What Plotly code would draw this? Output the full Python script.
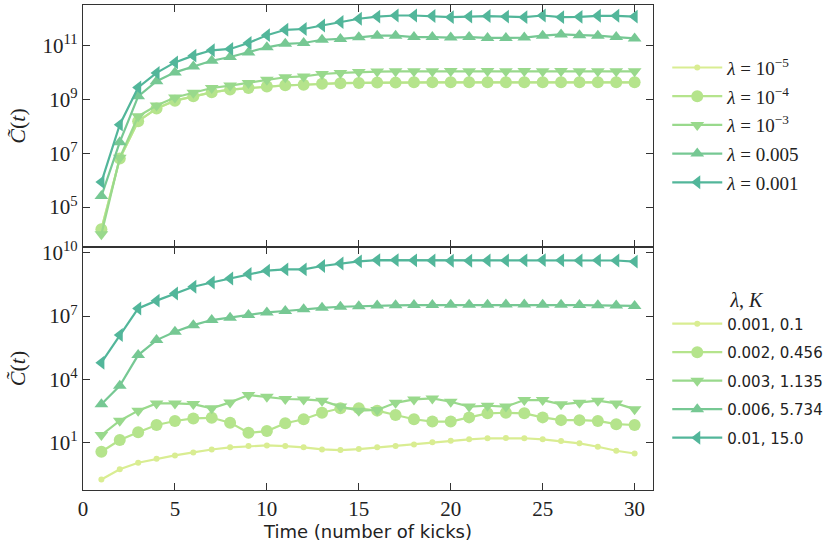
import plotly.graph_objects as go

t = list(range(1, 31))

# Top panel: log10 of C~(t)
top_labels = ["<i>λ</i> = 10<sup>−5</sup>", "<i>λ</i> = 10<sup>−4</sup>", "<i>λ</i> = 10<sup>−3</sup>",
              "<i>λ</i> = 0.005", "<i>λ</i> = 0.001"]
top_lam5 = [4.18, 6.80, 8.19, 8.66, 8.95, 9.11, 9.26, 9.36, 9.42, 9.48, 9.52, 9.54, 9.58, 9.60, 9.61,
            9.62, 9.62, 9.63, 9.63, 9.63, 9.63, 9.63, 9.63, 9.63, 9.63, 9.63, 9.63, 9.63, 9.63, 9.63]
top_lam4 = [4.18, 6.80, 8.19, 8.66, 8.95, 9.11, 9.26, 9.36, 9.42, 9.48, 9.52, 9.54, 9.58, 9.60, 9.61,
            9.62, 9.62, 9.63, 9.63, 9.63, 9.63, 9.63, 9.63, 9.63, 9.63, 9.63, 9.63, 9.63, 9.63, 9.63]
top_lam3 = [3.99, 6.83, 8.37, 8.77, 9.07, 9.24, 9.42, 9.51, 9.61, 9.73, 9.82, 9.85, 9.94, 9.98, 10.01,
            10.03, 10.04, 10.04, 10.04, 10.05, 10.04, 10.05, 10.04, 10.05, 10.04, 10.05, 10.04, 10.04, 10.04, 10.04]
top_005 = [5.41, 7.41, 9.11, 9.67, 10.00, 10.22, 10.43, 10.57, 10.74, 10.93, 11.06, 11.09, 11.21, 11.24, 11.30,
           11.36, 11.36, 11.31, 11.31, 11.29, 11.31, 11.28, 11.28, 11.29, 11.36, 11.41, 11.38, 11.36, 11.31, 11.26]
top_001 = [5.93, 8.06, 9.44, 9.98, 10.37, 10.62, 10.82, 10.87, 11.09, 11.38, 11.58, 11.61, 11.74, 11.87, 11.99,
           12.07, 12.11, 12.11, 12.09, 12.05, 12.07, 12.09, 12.07, 12.05, 12.11, 12.05, 12.06, 12.10, 12.10, 12.07]

# Bottom panel: log10 of C~(t)
bot_labels = ["0.001, 0.1", "0.002, 0.456", "0.003, 1.135", "0.006, 5.734", "0.01, 15.0"]
bot_k01 = [-0.74, -0.26, 0.05, 0.24, 0.40, 0.54, 0.68, 0.78, 0.84, 0.87, 0.84, 0.78, 0.68, 0.65, 0.70,
           0.78, 0.84, 0.92, 1.02, 1.09, 1.16, 1.21, 1.22, 1.21, 1.16, 1.08, 0.97, 0.81, 0.62, 0.49]
bot_k0456 = [0.57, 1.13, 1.50, 1.84, 2.03, 2.15, 2.18, 1.95, 1.47, 1.55, 1.92, 2.11, 2.42, 2.63, 2.63,
             2.52, 2.31, 2.11, 2.00, 2.00, 2.20, 2.39, 2.42, 2.39, 2.20, 2.07, 2.07, 2.03, 1.88, 1.84]
bot_k1135 = [1.36, 2.04, 2.52, 2.86, 2.86, 2.83, 2.63, 2.91, 3.26, 3.18, 3.07, 3.05, 2.99, 2.71, 2.52,
             2.55, 2.89, 3.05, 3.10, 2.94, 2.71, 2.75, 2.71, 3.02, 3.02, 2.82, 2.89, 2.99, 2.86, 2.59]
bot_k5734 = [2.82, 3.70, 5.15, 5.86, 6.26, 6.57, 6.81, 6.92, 7.05, 7.17, 7.24, 7.32, 7.39, 7.44, 7.47,
             7.50, 7.51, 7.52, 7.52, 7.53, 7.53, 7.54, 7.55, 7.55, 7.54, 7.53, 7.52, 7.51, 7.50, 7.48]
bot_k15 = [4.79, 6.10, 7.36, 7.73, 8.07, 8.39, 8.59, 8.78, 8.99, 9.15, 9.21, 9.21, 9.37, 9.49, 9.59,
           9.65, 9.65, 9.64, 9.63, 9.62, 9.62, 9.63, 9.63, 9.64, 9.65, 9.64, 9.63, 9.64, 9.63, 9.58]

colors = ["#d9ed92", "#b5e48c", "#99d98c", "#76c893", "#52b69a"]
symbols = ["circle", "circle", "triangle-down", "triangle-up", "triangle-left"]
msizes = [6, 12, 12, 12, 12]

fig = go.Figure()
top_series = [top_lam5, top_lam4, top_lam3, top_005, top_001]
bot_series = [bot_k01, bot_k0456, bot_k1135, bot_k5734, bot_k15]

for i, ys in enumerate(top_series):
    fig.add_trace(go.Scatter(
        x=t, y=[10 ** v for v in ys], xaxis="x2", yaxis="y2", mode="lines+markers",
        name=top_labels[i], legend="legend", legendgroup="top%d" % i,
        line=dict(color=colors[i], width=2.2),
        marker=dict(symbol=symbols[i], size=msizes[i], color=colors[i], line=dict(width=0))))

for i, ys in enumerate(bot_series):
    fig.add_trace(go.Scatter(
        x=t, y=[10 ** v for v in ys], xaxis="x", yaxis="y", mode="lines+markers",
        name=bot_labels[i], legend="legend2", legendgroup="bot%d" % i,
        line=dict(color=colors[i], width=2.2),
        marker=dict(symbol=symbols[i], size=msizes[i], color=colors[i], line=dict(width=0))))

axcol = "#333333"
serif = "Liberation Serif"
common = dict(showline=True, linecolor=axcol, linewidth=1.3, mirror="allticks", ticks="inside",
              ticklen=7, tickwidth=1.2, tickcolor=axcol, showgrid=False, zeroline=False,
              tickfont=dict(family=serif, size=21, color="#222"))

ytitle = dict(text="<i>C̃</i>(<i>t</i>)", font=dict(family=serif, size=22, color="#222"), standoff=10)

fig.update_layout(
    width=834, height=547,
    margin=dict(l=83, r=181, t=5, b=57, autoexpand=False),
    paper_bgcolor="white", plot_bgcolor="white",
    xaxis=dict(domain=[0, 1], anchor="y", range=[0, 31], tickvals=[0, 5, 10, 15, 20, 25, 30],
               title=dict(text="Time (number of kicks)", font=dict(family="DejaVu Sans", size=18, color="#222"),
                          standoff=0),
               **common),
    xaxis2=dict(domain=[0, 1], anchor="y2", range=[0, 31], tickvals=[0, 5, 10, 15, 20, 25, 30],
                showticklabels=False, matches="x", **common),
    yaxis=dict(domain=[0, 0.501], anchor="x", type="log", range=[-1.24, 10.27],
               tickvals=[1e1, 1e4, 1e7, 1e10],
               ticktext=["10<sup>1</sup>", "10<sup>4</sup>", "10<sup>7</sup>", "10<sup>10</sup>"],
               title=ytitle, **common),
    yaxis2=dict(domain=[0.501, 1], anchor="x2", type="log", range=[3.52, 12.5],
                tickvals=[1e5, 1e7, 1e9, 1e11],
                ticktext=["10<sup>5</sup>", "10<sup>7</sup>", "10<sup>9</sup>", "10<sup>11</sup>"],
                title=ytitle, **common),
    legend=dict(x=1.025, y=0.91, xanchor="left", yanchor="top", itemwidth=50,
                font=dict(family=serif, size=19, color="#222"), bgcolor="rgba(0,0,0,0)",
                tracegroupgap=1),
    legend2=dict(x=1.025, y=0.43, xanchor="left", yanchor="top", itemwidth=50,
                 font=dict(family="DejaVu Sans", size=15, color="#222"), bgcolor="rgba(0,0,0,0)",
                 tracegroupgap=6,
                 title=dict(text="<i>λ</i>, <i>K</i>", side="top center",
                            font=dict(family=serif, size=20, color="#222"))),
    showlegend=True,
)

fig.write_html("out.html", post_script="document.body.style.margin='0';",
               config={"displayModeBar": False})
